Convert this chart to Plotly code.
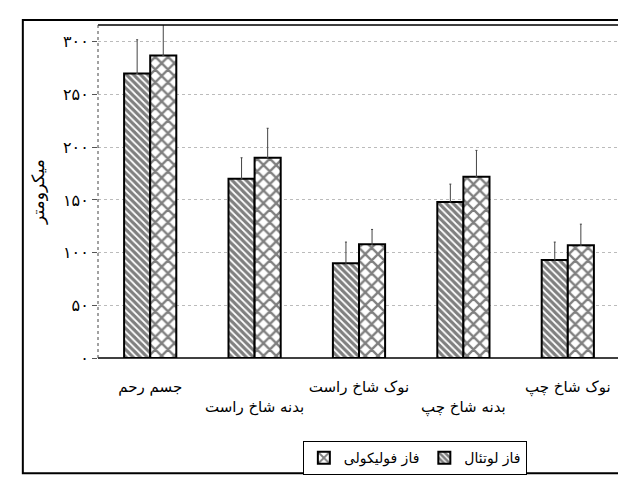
import plotly.graph_objects as go

categories = ["جسم رحم", "بدنه شاخ راست", "نوک شاخ راست", "بدنه شاخ چپ", "نوک شاخ چپ"]
luteal = [270, 170, 90, 148, 93]
follicular = [287, 190, 108, 172, 107]
luteal_err = [32, 20, 20, 17, 17]
follicular_err = [33, 28, 14, 25, 20]
series_names = ["فاز لوتئال", "فاز فولیکولی"]
y_ticks = [0, 50, 100, 150, 200, 250, 300]
y_ticklabels = ["۰", "۵۰", "۱۰۰", "۱۵۰", "۲۰۰", "۲۵۰", "۳۰۰"]
y_title = "میکرومتر"

ticktext = [c if i % 2 == 0 else "<br>" + c for i, c in enumerate(categories)]

fig = go.Figure()
fig.add_trace(go.Bar(
    x=categories, y=luteal, name=series_names[0],
    marker=dict(color="white", line=dict(color="black", width=2),
                pattern=dict(shape="\\", fgcolor="black", bgcolor="white", size=5, solidity=0.65)),
    error_y=dict(type="data", array=luteal_err, arrayminus=[0] * 5, symmetric=False,
                 color="#444", thickness=1, width=1),
))
fig.add_trace(go.Bar(
    x=categories, y=follicular, name=series_names[1],
    marker=dict(color="white", line=dict(color="black", width=2),
                pattern=dict(shape="x", fgcolor="black", bgcolor="white", size=9, solidity=0.45)),
    error_y=dict(type="data", array=follicular_err, arrayminus=[0] * 5, symmetric=False,
                 color="#444", thickness=1, width=1),
))

fig.update_layout(
    width=626, height=479,
    margin=dict(l=90, r=14, t=17, b=121),
    paper_bgcolor="white", plot_bgcolor="white",
    barmode="group", bargap=0.5, bargroupgap=0,
    font=dict(family="DejaVu Sans", color="black", size=15),
    showlegend=True,
    legend=dict(orientation="h", x=0.607, y=-0.25, xanchor="center", yanchor="top",
                bordercolor="black", borderwidth=1, traceorder="reversed",
                font=dict(size=14)),
    xaxis=dict(tickmode="array", tickvals=categories, ticktext=ticktext,
               showgrid=False, showline=False, ticks="", ticklabelstandoff=18,
               tickangle=0, automargin=False, tickfont=dict(size=15)),
    yaxis=dict(range=[0, 316], tickmode="array", tickvals=y_ticks, ticktext=y_ticklabels,
               showgrid=True, gridcolor="#bbb", griddash="dot", gridwidth=1,
               zeroline=False, showline=False, ticks="outside", ticklen=5, tickcolor="#555",
               automargin=False, tickfont=dict(size=16),
               title=dict(text=y_title, font=dict(size=17), standoff=14)),
    shapes=[
        dict(type="line", xref="paper", yref="paper", x0=0, x1=1, y0=1, y1=1,
             line=dict(color="black", width=1.5)),
        dict(type="line", xref="paper", yref="paper", x0=0, x1=1, y0=0, y1=0,
             line=dict(color="black", width=1.5)),
        dict(type="line", xref="paper", yref="paper", x0=0, x1=0, y0=0, y1=1,
             line=dict(color="#444", width=1, dash="dot")),
        dict(type="line", xref="paper", yref="paper", x0=1, x1=1, y0=0, y1=1,
             line=dict(color="#444", width=1, dash="dot")),
        dict(type="rect", xref="paper", yref="paper", x0=-0.144, x1=1.017, y0=-0.346, y1=1.015,
             line=dict(color="black", width=2)),
    ],
)

fig.write_html("out.html")
